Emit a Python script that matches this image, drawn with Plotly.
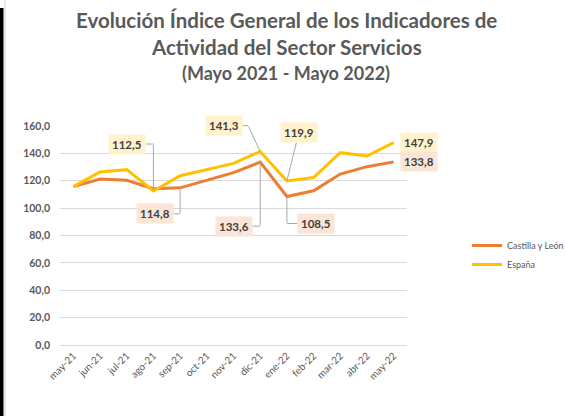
import plotly.graph_objects as go

meses = ["may-21", "jun-21", "jul-21", "ago-21", "sep-21", "oct-21", "nov-21",
         "dic-21", "ene-22", "feb-22", "mar-22", "abr-22", "may-22"]
castilla_leon = [115.7, 121.3, 120.3, 114.2, 114.8, 120.3, 125.9, 133.6, 108.5, 112.7, 124.9, 130.3, 133.8]
espana = [115.7, 126.4, 128.1, 112.5, 123.7, 128.2, 132.7, 141.3, 119.9, 122.3, 140.5, 138.1, 147.9]
y_ticks = [0, 20, 40, 60, 80, 100, 120, 140, 160]

W, H = 566, 416
ML, MR, MT, MB = 60, 159, 126, 71
PW, PH = W - ML - MR, H - MT - MB


def px(x):
    return (x - ML) / PW


def py(y):
    return (H - MB - y) / PH


FONT = "Lato"
C_CYL = "#ED7D31"
C_ESP = "#FFC000"
BG_CYL = "#FBE5D6"
BG_ESP = "#FFF2CC"
LEADER = "#A6A6A6"

fig = go.Figure()
fig.add_trace(go.Scatter(x=meses, y=castilla_leon, name="Castilla y León", mode="lines",
                         line=dict(color=C_CYL, width=3)))
fig.add_trace(go.Scatter(x=meses, y=espana, name="España", mode="lines",
                         line=dict(color=C_ESP, width=3)))


def fmt(v):
    return f"{v:.1f}".replace(".", ",")


LABEL_FONT = dict(family=FONT, size=11.5, color="#404040", weight="bold")

# elbow leaders: (series, bg, index, first segment from point (dx, dy), horizontal offset to box)
elbow_labels = [
    (espana, BG_ESP, 3, (0, -47), -26),
    (castilla_leon, BG_CYL, 4, (0, 26), -25),
    (espana, BG_ESP, 7, (-12, -26), -24),
    (castilla_leon, BG_CYL, 7, (0, 64), -26),
    (castilla_leon, BG_CYL, 8, (0, 27), 29),
]
annotations = []
for vals, bg, i, (dx, dy), hx in elbow_labels:
    # segment from the point to the elbow
    annotations.append(dict(x=meses[i], y=vals[i], text=" ", showarrow=True,
                            arrowhead=0, arrowwidth=1, arrowcolor=LEADER, standoff=0,
                            ax=dx, ay=dy, font=dict(size=1), borderpad=0))
    # label with horizontal segment to the elbow
    annotations.append(dict(x=meses[i], y=vals[i], text=fmt(vals[i]), showarrow=True,
                            xshift=dx, yshift=-dy,
                            arrowhead=0, arrowwidth=1, arrowcolor=LEADER, standoff=0,
                            ax=hx, ay=0, bgcolor=bg, borderpad=3, font=LABEL_FONT))
# straight leader
annotations.append(dict(x=meses[8], y=espana[8], text=fmt(espana[8]), showarrow=True,
                        arrowhead=0, arrowwidth=1, arrowcolor=LEADER, standoff=0,
                        ax=12, ay=-48, bgcolor=BG_ESP, borderpad=3, font=LABEL_FONT))
for vals, bg in [(espana, BG_ESP), (castilla_leon, BG_CYL)]:
    annotations.append(dict(x=meses[-1], y=vals[-1], text=fmt(vals[-1]), showarrow=False,
                            xshift=25, bgcolor=bg, borderpad=3, font=LABEL_FONT))

title_lines = [
    ("Evolución Índice General de los Indicadores de", 20, 20.5),
    ("Actividad del Sector Servicios", 47, 20.5),
    ("(Mayo 2021 - Mayo 2022)", 73, 18),
]
for txt, yc, sz in title_lines:
    annotations.append(dict(xref="paper", yref="paper", x=px(286), y=py(yc), text=txt,
                            showarrow=False, xanchor="center", yanchor="middle",
                            font=dict(family=FONT, size=sz, color="#595959", weight="bold")))

shapes = [
    dict(type="rect", xref="paper", yref="paper", x0=px(0), x1=px(3.5), y0=py(8), y1=py(416),
         fillcolor="black", line=dict(width=0), layer="above"),
    dict(type="line", xref="paper", yref="paper", x0=px(5), x1=px(5), y0=py(0), y1=py(416),
         line=dict(color="#E0E0E0", width=1.5), layer="above"),
]

fig.update_layout(
    width=W, height=H,
    margin=dict(l=ML, r=MR, t=MT, b=MB, autoexpand=False),
    paper_bgcolor="white", plot_bgcolor="white",
    separators=",.",
    font=dict(family=FONT, color="#595959"),
    showlegend=True,
    hovermode=False,
    legend=dict(x=px(467), y=py(231), xanchor="left", yanchor="top",
                font=dict(family=FONT, size=9, color="#595959"),
                bgcolor="rgba(0,0,0,0)", itemwidth=30),
    annotations=annotations,
    shapes=shapes,
)
fig.update_xaxes(type="category", categoryorder="array", categoryarray=meses,
                 range=[-0.5, len(meses) - 0.5],
                 tickangle=-45, tickfont=dict(family=FONT, size=10, color="#595959"),
                 showgrid=False, showline=True, linecolor="#D9D9D9", linewidth=1,
                 ticks="", fixedrange=True)
fig.update_yaxes(range=[0, 160], tickvals=y_ticks, tickformat=".1f",
                 tickfont=dict(family=FONT, size=10.5, color="#595959", weight="bold"),
                 showgrid=True, gridcolor="#D9D9D9", gridwidth=1, zeroline=False,
                 showline=False, ticks="", ticklabelstandoff=9, fixedrange=True)

fig.write_html("out.html", config={"displayModeBar": False},
               post_script="document.body.style.margin='0';")
